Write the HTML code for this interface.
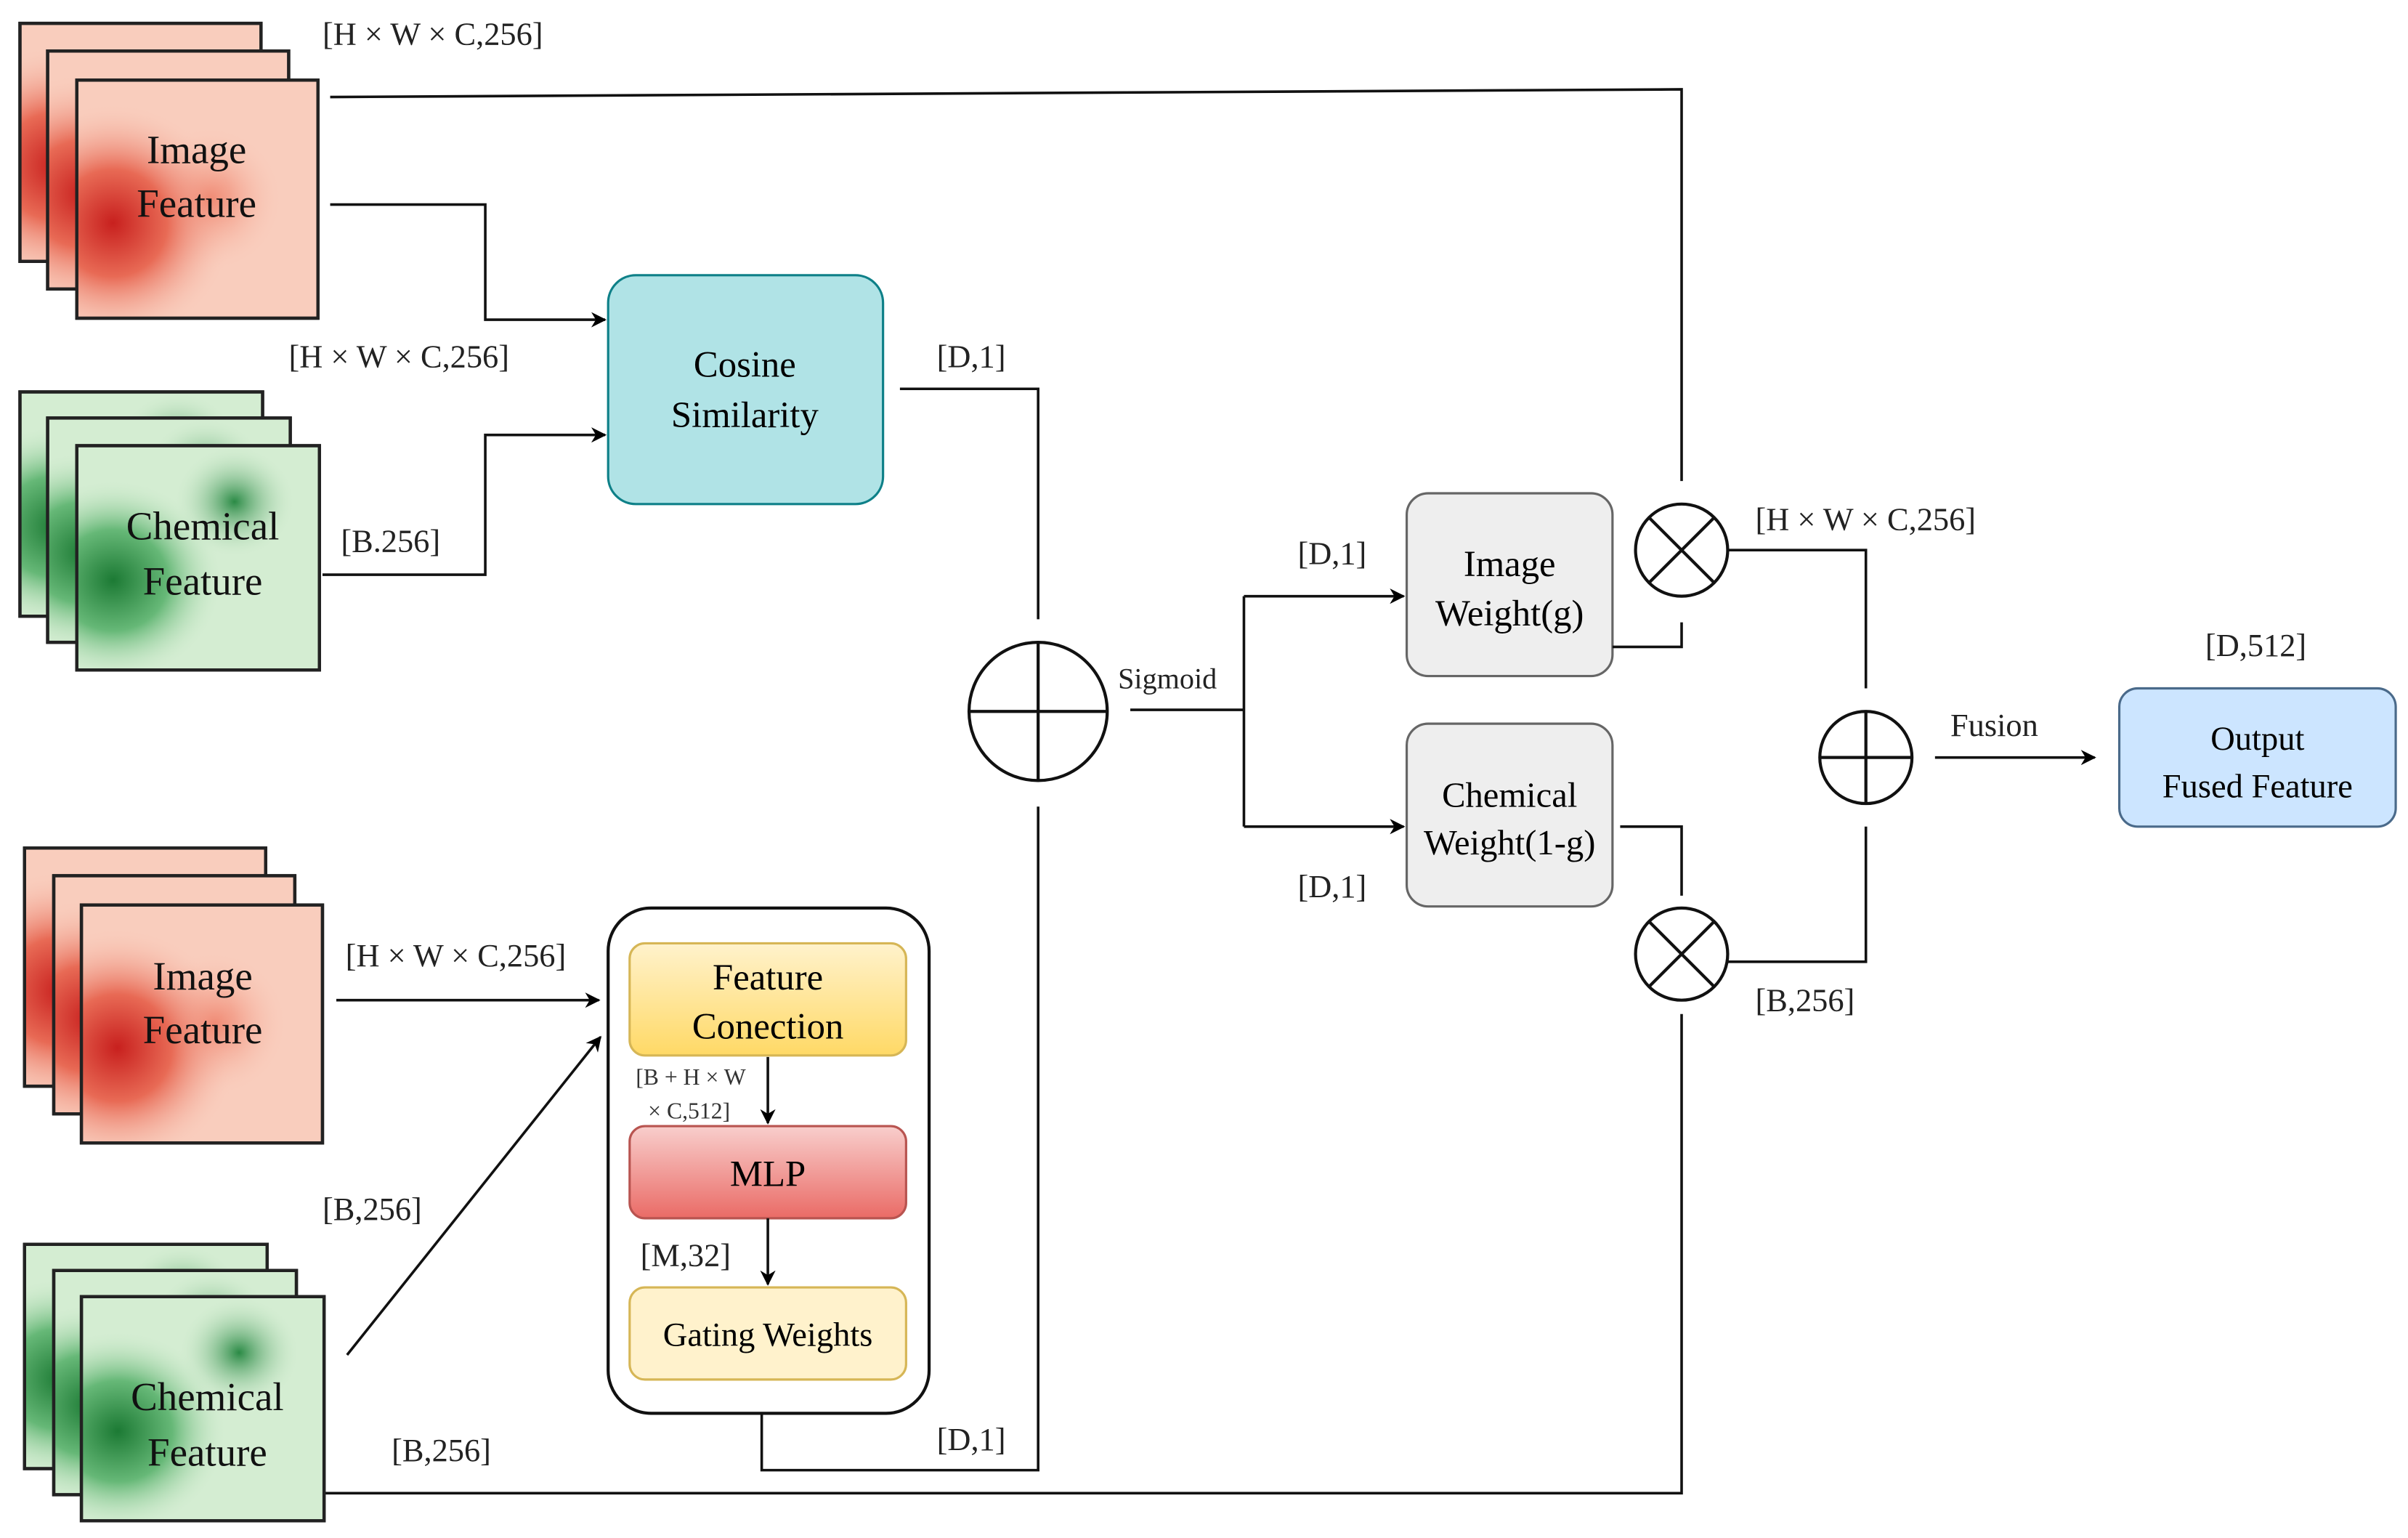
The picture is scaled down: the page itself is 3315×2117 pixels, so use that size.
<!DOCTYPE html>
<html><head><meta charset="utf-8"><style>html,body{margin:0;padding:0;background:#fff}svg{display:block}</style></head>
<body>
<svg width="3315" height="2117" viewBox="0 0 1568 1001" xmlns="http://www.w3.org/2000/svg" font-family="'Liberation Serif', serif">
<defs>
<marker id="a" markerWidth="10" markerHeight="10" refX="9" refY="5" orient="auto" markerUnits="userSpaceOnUse"><path d="M0,0 L10,5 L0,10 L3,5 z" fill="#000"/></marker>
<radialGradient id="r1" cx="0.15" cy="0.6" r="0.5"><stop offset="0" stop-color="#c8201e"/><stop offset="0.45" stop-color="#e86a55"/><stop offset="1" stop-color="#f9c9b8" stop-opacity="0"/></radialGradient>
<radialGradient id="r2" cx="0.55" cy="0.5" r="0.3"><stop offset="0" stop-color="#ee7a62"/><stop offset="1" stop-color="#f9c9b8" stop-opacity="0"/></radialGradient>
<radialGradient id="g1" cx="0.15" cy="0.6" r="0.45"><stop offset="0" stop-color="#1c7a34"/><stop offset="0.5" stop-color="#66b877"/><stop offset="1" stop-color="#d2ecd0" stop-opacity="0"/></radialGradient>
<radialGradient id="g2" cx="0.65" cy="0.25" r="0.25"><stop offset="0" stop-color="#2a8a45"/><stop offset="1" stop-color="#d2ecd0" stop-opacity="0"/></radialGradient>
<linearGradient id="yl" x1="0" y1="0" x2="0" y2="1"><stop offset="0" stop-color="#fff2cc"/><stop offset="1" stop-color="#ffd966"/></linearGradient>
<linearGradient id="rd" x1="0" y1="0" x2="0" y2="1"><stop offset="0" stop-color="#f8cecc"/><stop offset="1" stop-color="#ea6b66"/></linearGradient>
<g id="red"><rect width="157" height="155" fill="#f9cdbd"/><rect width="157" height="155" fill="url(#r2)"/><rect width="157" height="155" fill="url(#r1)"/></g>
<g id="grn"><rect width="158" height="146" fill="#d4edd2"/><rect width="158" height="146" fill="url(#g2)"/><rect width="158" height="146" fill="url(#g1)"/></g>
</defs>
<g stroke="#222" stroke-width="2">
<use href="#red" x="13" y="15"/><rect x="13" y="15" width="157" height="155" fill="none"/>
<use href="#red" x="31" y="33"/><rect x="31" y="33" width="157" height="155" fill="none"/>
<use href="#red" x="50" y="52"/><rect x="50" y="52" width="157" height="155" fill="none"/>
<use href="#grn" x="13" y="255"/><rect x="13" y="255" width="158" height="146" fill="none"/>
<use href="#grn" x="31" y="272"/><rect x="31" y="272" width="158" height="146" fill="none"/>
<use href="#grn" x="50" y="290"/><rect x="50" y="290" width="158" height="146" fill="none"/>
<use href="#red" x="16" y="552"/><rect x="16" y="552" width="157" height="155" fill="none"/>
<use href="#red" x="35" y="570"/><rect x="35" y="570" width="157" height="155" fill="none"/>
<use href="#red" x="53" y="589"/><rect x="53" y="589" width="157" height="155" fill="none"/>
<use href="#grn" x="16" y="810"/><rect x="16" y="810" width="158" height="146" fill="none"/>
<use href="#grn" x="35" y="827"/><rect x="35" y="827" width="158" height="146" fill="none"/>
<use href="#grn" x="53" y="844"/><rect x="53" y="844" width="158" height="146" fill="none"/>
</g>
<g font-size="26" text-anchor="middle" fill="#111">
<text x="128" y="106">Image</text><text x="128" y="141">Feature</text>
<text x="132" y="351">Chemical</text><text x="132" y="387">Feature</text>
<text x="132" y="644">Image</text><text x="132" y="679">Feature</text>
<text x="135" y="918">Chemical</text><text x="135" y="954">Feature</text>
</g>
<!-- boxes -->
<rect x="396" y="179" width="179" height="149" rx="18" fill="#b0e3e6" stroke="#0e8088" stroke-width="1.5"/>
<text x="485" y="245" font-size="24" text-anchor="middle">Cosine</text><text x="485" y="278" font-size="24" text-anchor="middle">Similarity</text>
<rect x="396" y="591" width="209" height="329" rx="28" fill="#fff" stroke="#111" stroke-width="2"/>
<rect x="410" y="614" width="180" height="73" rx="10" fill="url(#yl)" stroke="#d6b656" stroke-width="1.5"/>
<text x="500" y="644" font-size="24" text-anchor="middle">Feature</text><text x="500" y="676" font-size="24" text-anchor="middle">Conection</text>
<rect x="410" y="733" width="180" height="60" rx="10" fill="url(#rd)" stroke="#b85450" stroke-width="1.5"/>
<text x="500" y="772" font-size="24" text-anchor="middle">MLP</text>
<rect x="410" y="838" width="180" height="60" rx="10" fill="#fff2cc" stroke="#d6b656" stroke-width="1.5"/>
<text x="500" y="876" font-size="22" text-anchor="middle">Gating Weights</text>
<rect x="916" y="321" width="134" height="119" rx="14" fill="#eeeeee" stroke="#666" stroke-width="1.5"/>
<text x="983" y="375" font-size="24" text-anchor="middle">Image</text><text x="983" y="407" font-size="24" text-anchor="middle">Weight(g)</text>
<rect x="916" y="471" width="134" height="119" rx="14" fill="#eeeeee" stroke="#666" stroke-width="1.5"/>
<text x="983" y="525" font-size="23" text-anchor="middle">Chemical</text><text x="983" y="556" font-size="23" text-anchor="middle">Weight(1-g)</text>
<rect x="1380" y="448" width="180" height="90" rx="12" fill="#cce5ff" stroke="#4a6a8a" stroke-width="1.5"/>
<text x="1470" y="488" font-size="22" text-anchor="middle">Output</text><text x="1470" y="519" font-size="22" text-anchor="middle">Fused Feature</text>
<!-- circles -->
<g fill="#fff" stroke="#111" stroke-width="2">
<circle cx="676" cy="463" r="45"/><path d="M631,463 H721 M676,418 V508"/>
<circle cx="1095" cy="358" r="30"/><path d="M1074,337 L1116,379 M1116,337 L1074,379"/>
<circle cx="1095" cy="621" r="30"/><path d="M1074,600 L1116,642 M1116,600 L1074,642"/>
<circle cx="1215" cy="493" r="30"/><path d="M1185,493 H1245 M1215,463 V523"/>
</g>
<!-- lines -->
<g fill="none" stroke="#111" stroke-width="1.7">
<path d="M215,63 L1095,58 V313"/>
<path d="M215,133 H316 V208 H394" marker-end="url(#a)"/>
<path d="M210,374 H316 V283 H394" marker-end="url(#a)"/>
<path d="M586,253 H676 V403"/>
<path d="M496,920 V957 H676 V525"/>
<path d="M736,462 H810"/>
<path d="M810,388 V538"/>
<path d="M810,388 H914" marker-end="url(#a)"/>
<path d="M810,538 H914" marker-end="url(#a)"/>
<path d="M1050,421 H1095 V405"/>
<path d="M1055,538 H1095 V583"/>
<path d="M212,972 H1095 V660"/>
<path d="M1125,358 H1215 V448"/>
<path d="M1125,626 H1215 V538"/>
<path d="M1260,493 H1364" marker-end="url(#a)"/>
<path d="M219,651 H390" marker-end="url(#a)"/>
<path d="M226,882 L391,675" marker-end="url(#a)"/>
<path d="M500,688 V731" marker-end="url(#a)"/>
<path d="M500,793 V836" marker-end="url(#a)"/>
</g>
<!-- labels -->
<g font-size="21" fill="#222">
<text x="210" y="29">[H × W × C,256]</text>
<text x="188" y="239">[H × W × C,256]</text>
<text x="222" y="359">[B.256]</text>
<text x="610" y="239">[D,1]</text>
<text x="845" y="367">[D,1]</text>
<text x="845" y="584">[D,1]</text>
<text x="1143" y="345">[H × W × C,256]</text>
<text x="1143" y="658">[B,256]</text>
<text x="1436" y="427">[D,512]</text>
<text x="225" y="629">[H × W × C,256]</text>
<text x="210" y="794">[B,256]</text>
<text x="255" y="951">[B,256]</text>
<text x="610" y="944">[D,1]</text>
<text x="417" y="824">[M,32]</text>
</g>
<text x="728" y="448" font-size="19" fill="#222">Sigmoid</text>
<text x="1270" y="479" font-size="21" fill="#222">Fusion</text>
<text x="414" y="706" font-size="15" fill="#333">[B + H × W</text>
<text x="422" y="728" font-size="15" fill="#333">× C,512]</text>
</svg>
</body></html>
